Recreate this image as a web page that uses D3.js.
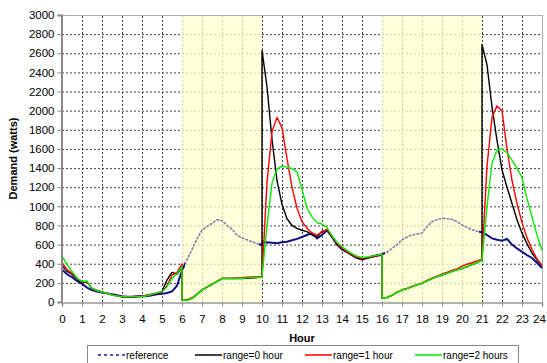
<!DOCTYPE html>
<html>
<head>
<meta charset="utf-8">
<script src="https://cdn.jsdelivr.net/npm/d3@7/dist/d3.min.js"></script>
<style>
  body { margin: 0; background: #fff; }
  text { font-family: Arial, "Liberation Sans", sans-serif; fill: #000; }
</style>
</head>
<body>
<div id="chart"></div>
<script>
// Hours (duplicated at 6, 10, 16 and 21 where the curves jump)
var hours = [
  0, 0.25, 0.5, 0.75, 1, 1.25, 1.5, 1.75, 2, 2.25, 2.5, 2.75, 3, 3.25, 3.5, 3.75,
  4, 4.25, 4.5, 4.75, 5, 5.25, 5.5, 5.75, 6,
  6, 6.25, 6.5, 6.75, 7, 7.25, 7.5, 7.75, 8, 8.25, 8.5, 8.75, 9, 9.25, 9.5, 9.75, 10,
  10, 10.25, 10.5, 10.75, 11, 11.25, 11.5, 11.75, 12, 12.25, 12.5, 12.75, 13, 13.25, 13.5, 13.75,
  14, 14.25, 14.5, 14.75, 15, 15.25, 15.5, 15.75, 16,
  16, 16.25, 16.5, 16.75, 17, 17.25, 17.5, 17.75, 18, 18.25, 18.5, 18.75, 19, 19.25, 19.5, 19.75,
  20, 20.25, 20.5, 20.75, 21,
  21, 21.25, 21.5, 21.75, 22, 22.25, 22.5, 22.75, 23, 23.25, 23.5, 23.75, 24
]

var reference = [
  340, 290, 260, 220, 190, 150, 125, 110, 100, 90, 80, 70, 60, 55, 55, 60, 60, 60, 70, 80, 85, 95, 110, 170, 330,
  330, 440, 550, 660, 750, 790, 820, 860, 850, 800, 760, 700, 670, 650, 630, 610, 595,
  620, 625, 620, 615, 625, 630, 645, 660, 680, 700, 720, 665, 700, 750, 680, 600, 550, 520, 490, 460, 445, 460, 475, 490, 500,
  500, 520, 560, 600, 650, 680, 700, 710, 720, 790, 840, 860, 875, 870, 865, 840, 805, 780, 755, 740, 730,
  730, 700, 665, 650, 640, 660, 600, 560, 525, 490, 460, 410, 355
]

var range0 = [
  380, 320, 290, 240, 200, 210, 140, 120, 105, 90, 75, 65, 55, 55, 55, 55, 60, 70, 80, 90, 110, 230, 310, 290, 370,
  20, 20, 40, 80, 125, 155, 185, 215, 245, 245, 245, 245, 245, 248, 250, 255, 265,
  2630, 2250, 1700, 1270, 1020, 870, 800, 770, 750, 735, 700, 680, 740, 750, 680, 610, 560, 520, 490, 465, 450, 460, 470, 480, 490,
  40, 45, 70, 100, 125, 140, 160, 180, 195, 220, 245, 265, 280, 300, 320, 335, 350, 370, 390, 410, 440,
  2690, 2480, 2040, 1690, 1380, 1200, 1030, 860, 720, 610, 510, 440, 385
]

var range1 = [
  410, 340, 300, 250, 210, 215, 140, 120, 105, 90, 75, 65, 55, 55, 55, 58, 60, 70, 85, 95, 105, 170, 280, 310, 400,
  20, 20, 42, 82, 127, 157, 187, 217, 247, 248, 250, 252, 255, 258, 262, 264, 267,
  267, 1250, 1780, 1930, 1820, 1500, 1200, 980, 840, 770, 720, 700, 730, 760, 690, 615, 565, 525, 495, 470, 455, 465, 475, 485, 495,
  45, 48, 72, 102, 127, 142, 162, 182, 198, 225, 250, 270, 290, 310, 330, 345, 375, 395, 410, 430, 445,
  445, 1420, 1930, 2050, 2000, 1600, 1270, 1030, 830, 670, 550, 450, 380
]

var range2 = [
  480, 390, 320, 250, 215, 220, 140, 120, 105, 90, 73, 62, 56, 56, 56, 56, 56, 65, 80, 95, 108, 160, 245, 300, 370,
  20, 15, 35, 80, 125, 155, 185, 215, 245, 245, 245, 247, 249, 252, 255, 258, 262,
  262, 800, 1240, 1390, 1420, 1410, 1395, 1360, 1180, 980, 890, 830, 815, 780, 690, 625, 580, 540, 505, 480, 465, 470, 480, 490, 500,
  45, 45, 70, 100, 125, 140, 160, 180, 195, 220, 245, 265, 282, 300, 320, 335, 350, 370, 390, 410, 440,
  440, 1000, 1450, 1590, 1600, 1560, 1480, 1400, 1300, 1080, 890, 700, 540
]

var shaded = [[6, 10], [16, 21]]
var xTicks = d3.range(0, 25)
var yTicks = d3.range(0, 3001, 200)

var legendItems = [
  { name: 'reference', color: '#1a1aa0', dash: '3,3' },
  { name: 'range=0 hour', color: '#000000', dash: null },
  { name: 'range=1 hour', color: '#ff0000', dash: null },
  { name: 'range=2 hours', color: '#00ee00', dash: null }
]

// Dimensions
var width = 547
var height = 363
var margin = { top: 15, right: 5, bottom: 61, left: 62 }

var x = d3.scaleLinear().domain([0, 24]).range([margin.left, width - margin.right])
var y = d3.scaleLinear().domain([0, 3000]).range([height - margin.bottom, margin.top])

var svg = d3.select('#chart').append('svg')
  .attr('width', width)
  .attr('height', height)

// grid
var grid = svg.append('g').attr('class', 'grid')
grid.selectAll('line.h')
  .data(yTicks.filter(function (d) { return d > 0 && d < 3000 }))
  .enter().append('line')
  .attr('x1', x(0)).attr('x2', x(24))
  .attr('y1', function (d) { return y(d) + 0.5 })
  .attr('y2', function (d) { return y(d) + 0.5 })
  .attr('stroke', '#444').attr('stroke-dasharray', '2,2')
grid.selectAll('line.v')
  .data(xTicks.filter(function (d) { return d > 0 && d < 24 }))
  .enter().append('line')
  .attr('y1', y(0)).attr('y2', y(3000))
  .attr('x1', function (d) { return x(d) + 0.5 })
  .attr('x2', function (d) { return x(d) + 0.5 })
  .attr('stroke', '#444').attr('stroke-dasharray', '2,2')

// shaded periods
svg.selectAll('rect.band')
  .data(shaded)
  .enter().append('rect')
  .attr('class', 'band')
  .attr('x', function (d) { return x(d[0]) })
  .attr('width', function (d) { return x(d[1]) - x(d[0]) })
  .attr('y', y(3000))
  .attr('height', y(0) - y(3000))
  .attr('fill', '#ffffcc')
  .attr('fill-opacity', 0.75)

// frame
svg.append('line')
  .attr('x1', x(0)).attr('x2', x(24) + 0.5)
  .attr('y1', y(3000) + 0.5).attr('y2', y(3000) + 0.5)
  .attr('stroke', '#aaa')
svg.append('line')
  .attr('x1', x(24) + 0.5).attr('x2', x(24) + 0.5)
  .attr('y1', y(3000)).attr('y2', y(0))
  .attr('stroke', '#aaa')

// clip paths for reference styling
var defs = svg.append('defs')
defs.append('clipPath').attr('id', 'inBand')
  .selectAll('rect').data(shaded).enter().append('rect')
  .attr('x', function (d) { return x(d[0]) })
  .attr('width', function (d) { return x(d[1]) - x(d[0]) })
  .attr('y', 0).attr('height', height)
var outside = [[0, shaded[0][0]], [shaded[0][1], shaded[1][0]], [shaded[1][1], 24]]
defs.append('clipPath').attr('id', 'outBand')
  .selectAll('rect').data(outside).enter().append('rect')
  .attr('x', function (d) { return x(d[0]) - 3 })
  .attr('width', function (d) { return x(d[1]) - x(d[0]) + 6 })
  .attr('y', 0).attr('height', height)

function lineFor(values) {
  return d3.line()
    .x(function (d, i) { return x(hours[i]) })
    .y(function (d) { return y(d) })(values)
}

svg.append('path')
  .attr('d', lineFor(reference))
  .attr('fill', 'none')
  .attr('stroke', '#8080b4')
  .attr('stroke-width', 1.6)
  .attr('stroke-dasharray', '3,1')
  .attr('clip-path', 'url(#inBand)')
svg.append('path')
  .attr('d', lineFor(reference))
  .attr('fill', 'none')
  .attr('stroke', '#101080')
  .attr('stroke-width', 2)
  .attr('clip-path', 'url(#outBand)')

var series = [
  { values: range0, color: '#000000' },
  { values: range1, color: '#ff0000' },
  { values: range2, color: '#00ee00' }
]
svg.selectAll('path.series')
  .data(series)
  .enter().append('path')
  .attr('class', 'series')
  .attr('d', function (d) { return lineFor(d.values) })
  .attr('fill', 'none')
  .attr('stroke', function (d) { return d.color })
  .attr('stroke-width', 1.4)
  .attr('stroke-linejoin', 'round')

// axes
var yAxis = svg.append('g')
  .attr('transform', 'translate(' + (x(0) - 0.5) + ',0)')
  .call(d3.axisLeft(y).tickValues(yTicks).tickSize(4).tickPadding(3).tickFormat(d3.format('d')))
yAxis.select('.domain').attr('stroke', '#888').attr('stroke-width', 2)
yAxis.selectAll('.tick line').attr('stroke', '#888')
yAxis.selectAll('.tick text').style('font-size', '11.5px')

var xAxis = svg.append('g')
  .attr('transform', 'translate(0,' + (y(0) + 0.5) + ')')
  .call(d3.axisBottom(x).tickValues(xTicks).tickSize(4).tickPadding(8).tickFormat(d3.format('d')))
xAxis.select('.domain').attr('stroke', '#999').attr('stroke-width', 1.5)
xAxis.selectAll('.tick line').attr('stroke', '#888')
xAxis.selectAll('.tick text').style('font-size', '11.5px')
  .attr('dx', function (d) { return d === 24 ? -3 : 0 })

// titles
svg.append('text')
  .attr('transform', 'translate(17,' + ((y(0) + y(3000)) / 2) + ') rotate(-90)')
  .attr('text-anchor', 'middle')
  .style('font-size', '11px')
  .style('font-weight', 'bold')
  .text('Demand (watts)')

svg.append('text')
  .attr('x', 302)
  .attr('y', 342)
  .attr('text-anchor', 'middle')
  .style('font-size', '11px')
  .style('font-weight', 'bold')
  .text('Hour')

// legend
var legend = svg.append('g')
legend.append('rect')
  .attr('x', 87.5).attr('y', 345.5)
  .attr('width', 431).attr('height', 30)
  .attr('fill', '#fff')
  .attr('stroke', '#888')
var legendX = [98, 195, 305, 415]
var item = legend.selectAll('g.item')
  .data(legendItems)
  .enter().append('g')
  .attr('transform', function (d, i) { return 'translate(' + legendX[i] + ',355)' })
item.append('line')
  .attr('x1', 0).attr('x2', 27)
  .attr('stroke', function (d) { return d.color })
  .attr('stroke-width', 1.5)
  .attr('stroke-dasharray', function (d) { return d.dash })
item.append('text')
  .attr('x', 28)
  .attr('dy', '0.35em')
  .style('font-size', '10px')
  .text(function (d) { return d.name })
</script>
</body>
</html>
